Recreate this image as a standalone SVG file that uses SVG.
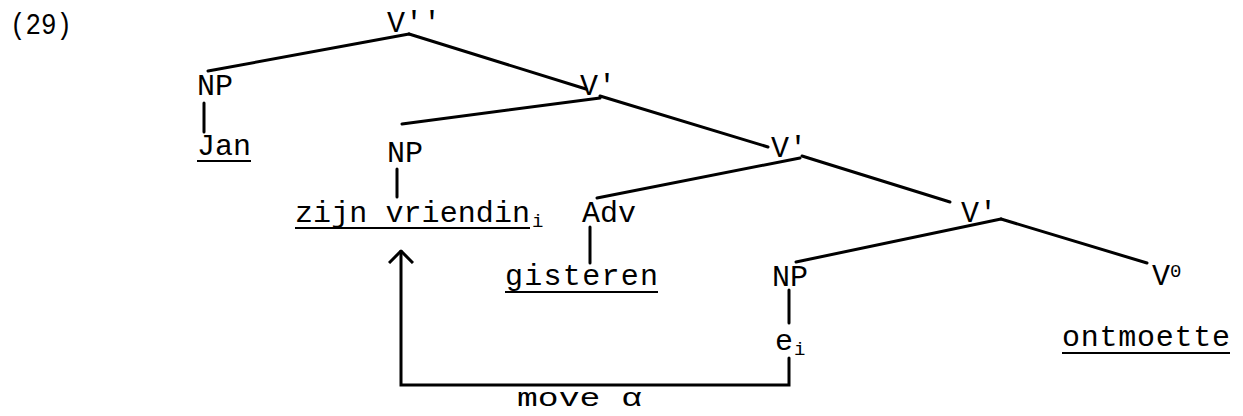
<svg xmlns="http://www.w3.org/2000/svg" width="1243" height="416" viewBox="0 0 1243 416">
<style>
text{font-family:"Liberation Mono","DejaVu Sans Mono",monospace;font-size:30px;fill:#000}
.sub{font-size:19px}
.ul{stroke:#000;stroke-width:2}
.edge{stroke:#000;stroke-width:3;fill:none;stroke-linecap:round}
</style>
<defs>
<marker id="arr" viewBox="0 0 14 26" refX="13" refY="13" markerWidth="14" markerHeight="26" markerUnits="userSpaceOnUse" orient="auto">
<path d="M1,1 L13,13 L1,25" fill="none" stroke="#000" stroke-width="3"/>
</marker>
</defs>
<text x="10" y="34" textLength="62" lengthAdjust="spacingAndGlyphs">(29)</text>
<g id="connectors">
<line class="edge" x1="409" y1="34" x2="208" y2="71"/>
<line class="edge" x1="409" y1="34" x2="586" y2="89"/>
<line class="edge" x1="600" y1="98" x2="402" y2="124"/>
<line class="edge" x1="600" y1="96" x2="768" y2="147"/>
<line class="edge" x1="800" y1="158" x2="597" y2="198"/>
<line class="edge" x1="802" y1="156" x2="950" y2="202"/>
<line class="edge" x1="1001" y1="219" x2="796" y2="262"/>
<line class="edge" x1="1001" y1="219" x2="1147" y2="263"/>
<line class="edge" x1="204" y1="103" x2="204" y2="132"/>
<line class="edge" x1="397" y1="169" x2="397" y2="197"/>
<line class="edge" x1="590" y1="227" x2="590" y2="263"/>
<line class="edge" x1="789" y1="290" x2="789" y2="323"/>
<path class="edge" d="M789,358 V385 H401 V251" marker-end="url(#arr)"/>
</g>
<g id="n-vbar2"><text x="387" y="32">V''</text></g>
<g id="n-np1"><text x="197" y="95">NP</text></g>
<g id="n-jan"><text x="197" y="155">Jan</text><line class="ul" x1="197" y1="161" x2="251" y2="161"/></g>
<g id="n-vbar1a"><text x="580" y="95">V'</text></g>
<g id="n-np2"><text x="387" y="162">NP</text></g>
<g id="n-zijn"><text x="295" y="222" textLength="235">zijn vriendin</text><line class="ul" x1="295" y1="228" x2="530" y2="228"/><text class="sub" x="532" y="227">i</text></g>
<g id="n-vbar1b"><text x="771" y="157">V'</text></g>
<g id="n-adv"><text x="582" y="222">Adv</text></g>
<g id="n-gisteren"><text x="505" y="285" textLength="153">gisteren</text><line class="ul" x1="505" y1="292" x2="658" y2="292"/></g>
<g id="n-vbar1c"><text x="961" y="222">V'</text></g>
<g id="n-np3"><text x="772" y="286">NP</text></g>
<g id="n-e"><text x="775" y="350">e</text><text class="sub" x="794" y="355">i</text></g>
<g id="n-v0"><text x="1152" y="285">V</text><text class="sub" x="1170" y="277">0</text></g>
<g id="n-ontmoette"><text x="1062" y="346" textLength="168">ontmoette</text><line class="ul" x1="1062" y1="353" x2="1230" y2="353"/></g>
<g id="n-move"><text x="517" y="406" style="font-size:26px" textLength="125" lengthAdjust="spacingAndGlyphs">move α</text></g>
</svg>
